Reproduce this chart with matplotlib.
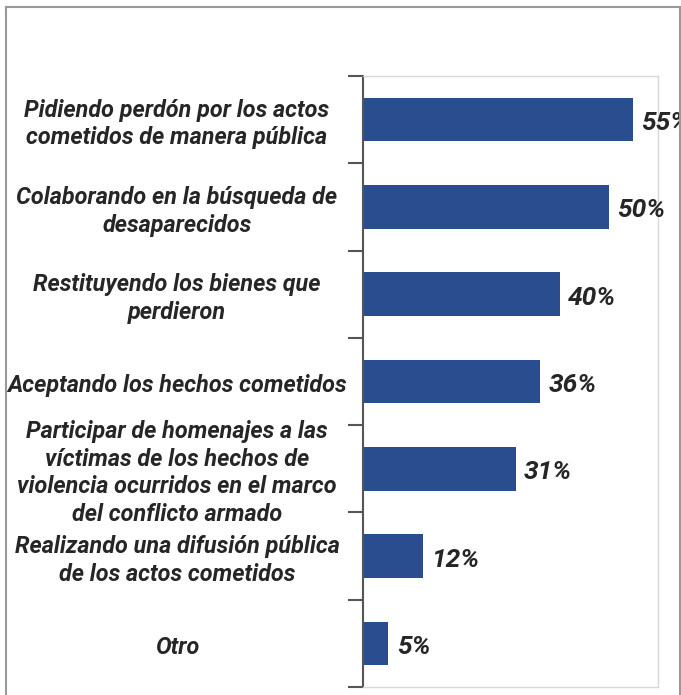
import matplotlib.pyplot as plt
from matplotlib.lines import Line2D
from matplotlib.transforms import blended_transform_factory

# Données du graphique
categorias = [
    "Pidiendo perdón por los actos\ncometidos de manera pública",
    "Colaborando en la búsqueda de\ndesaparecidos",
    "Restituyendo los bienes que\nperdieron",
    "Aceptando los hechos cometidos",
    "Participar de homenajes a las\nvíctimas de los hechos de\nviolencia ocurridos en el marco\ndel conflicto armado",
    "Realizando una difusión pública\nde los actos cometidos",
    "Otro",
]
porcentajes = [55, 50, 40, 36, 31, 12, 5]

plt.rcParams['font.family'] = ['Roboto', 'DejaVu Sans']

fig = plt.figure(figsize=(6.81, 6.95), dpi=100)
ax = fig.add_axes([363/681, 1 - 687/695, (658 - 363)/681, (687 - 76)/695])

n = len(categorias)
pos = list(range(n))
ax.barh(pos, porcentajes, height=0.5, color='#2a4d8f', left=0.2)
ax.set_ylim(n - 0.5, -0.5)
ax.set_xlim(0, 60.3)

# étiquettes de valeurs
for y, v in zip(pos, porcentajes):
    ax.text(v + 1.9, y + 0.04, f"{v}%", va='center', ha='left', fontsize=19,
            fontweight='bold', fontstyle='italic', color='#262626', clip_on=False)

# étiquettes des catégories, centrées à gauche de l'axe
tr = blended_transform_factory(fig.transFigure, ax.transData)
for y, lab in zip(pos, categorias):
    ax.text(177/681, y + 0.05, lab, transform=tr, ha='center', va='center',
            multialignment='center', fontsize=16.8, fontweight='bold',
            fontstyle='italic', color='#262626', linespacing=1.26, clip_on=False)

# axe et ticks
ax.set_yticks([p - 0.5 for p in pos] + [n - 0.5])
ax.set_yticklabels([])
ax.tick_params(axis='y', length=11, width=1.5, color='#555555')
ax.set_xticks([])
ax.spines['left'].set_color('#555555')
ax.spines['left'].set_linewidth(1.5)
for s in ['top', 'right', 'bottom']:
    ax.spines[s].set_color('#d8d8d8')
    ax.spines[s].set_linewidth(1.0)

# cadre extérieur
cadre = dict(transform=fig.transFigure, color='#999999', lw=1.5)
fig.add_artist(Line2D([6/681, 6/681], [0, 1 - 7/695], **cadre))
fig.add_artist(Line2D([6/681, 680/681], [1 - 7/695, 1 - 7/695], **cadre))
fig.add_artist(Line2D([680/681, 680/681], [0, 1 - 7/695], **cadre))

fig.savefig("out.png", dpi=100)
